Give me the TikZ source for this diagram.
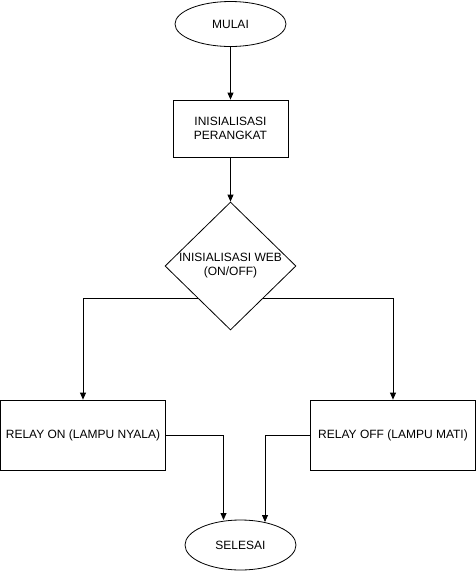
\documentclass[tikz,border=0pt]{standalone}
\usepackage{fontspec}
\setmainfont{Liberation Sans}
\usetikzlibrary{shapes.geometric,arrows.meta,calc}
\begin{document}
\begin{tikzpicture}[x=1pt,y=-1pt,
  every node/.style={font=\fontsize{12}{14}\selectfont, inner sep=0pt, align=center},
  term/.style={draw, ellipse, minimum width=111pt, minimum height=45pt, line width=0.8pt},
  proc/.style={draw, rectangle, line width=0.8pt},
  dec/.style={draw, diamond, minimum width=131pt, minimum height=128pt, line width=0.8pt},
  conn/.style={line width=0.8pt, -{Triangle[length=7pt,width=6pt]}},
  plain/.style={line width=0.8pt}]
\useasboundingbox (0,0) rectangle (476,571);
\node[term] (mulai) at (230.5,24) {MULAI};
\node[proc, minimum width=115pt, minimum height=57pt] (init) at (230.5,128.5) {INISIALISASI\\PERANGKAT};
\node[dec] (web) at (230.5,266) {INISIALISASI WEB\\(ON/OFF)};
\node[proc, minimum width=165pt, minimum height=70pt] (on) at (83,435) {RELAY ON (LAMPU NYALA)};
\node[proc, minimum width=165pt, minimum height=70pt] (off) at (393,435) {RELAY OFF (LAMPU MATI)};
\node[term, minimum height=50pt] (selesai) at (240.5,545) {SELESAI};
\coordinate (wl) at ($(web.west)!0.5!(web.south)$);
\coordinate (wr) at ($(web.east)!0.5!(web.south)$);
\draw[conn] (mulai.south) -- (init.north);
\draw[conn] (init.south) -- (web.north);
\draw[conn] (wl) -- (wl -| on.north) -- (on.north);
\draw[conn] (wr) -- (wr -| off.north) -- (off.north);
\draw[conn] (on.east) -- (223.5,435) -- (223.5,520);
\draw[conn] (off.west) -- (265,435) -- (265,522);
\end{tikzpicture}
\end{document}
